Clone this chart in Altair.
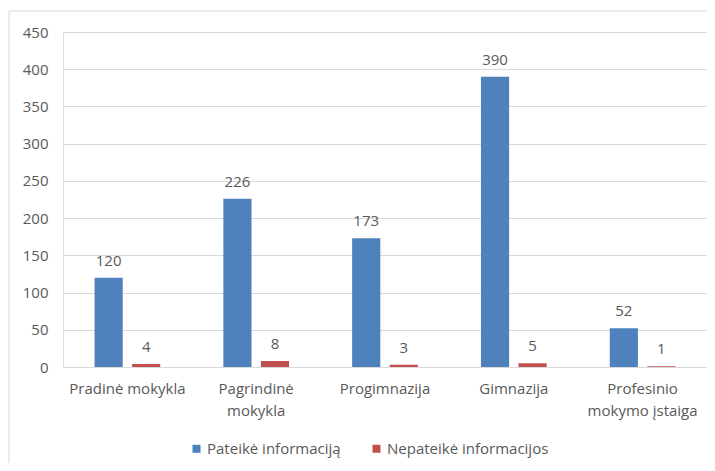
import altair as alt
import pandas as pd

categories = ["Pradinė mokykla", "Pagrindinė|mokykla", "Progimnazija", "Gimnazija", "Profesinio|mokymo įstaiga"]
series = ["Pateikė informaciją", "Nepateikė informacijos"]
provided = [120, 226, 173, 390, 52]
not_provided = [4, 8, 3, 5, 1]
colors = ["#4F81BD", "#C0504D"]
y_ticks = [0, 50, 100, 150, 200, 250, 300, 350, 400, 450]

rows = []
for i, c in enumerate(categories):
    rows.append({"cat": c, "series": series[0], "value": provided[i]})
    rows.append({"cat": c, "series": series[1], "value": not_provided[i]})
df = pd.DataFrame(rows)

FONT = "Open Sans"
FS = 15
W, H = 644, 335

x = alt.X("cat:N", sort=categories, title=None,
          scale=alt.Scale(paddingInner=0.49, paddingOuter=0.245),
          axis=alt.Axis(labelAngle=0, labelExpr="split(datum.label, '|')", labelFontSize=FS,
                        labelColor="#595959", labelFont=FONT, labelPadding=14, ticks=False,
                        domainColor="#D9D9D9", labelLineHeight=22, labelBaseline="top"))
xoff = alt.XOffset("series:N", sort=series, scale=alt.Scale(paddingInner=0.25, paddingOuter=0))

y = alt.Y("value:Q", title=None,
          scale=alt.Scale(domain=[0, 450], nice=False),
          axis=alt.Axis(values=y_ticks, labelFontSize=FS, labelColor="#595959", labelFont=FONT,
                        ticks=False, domain=False, gridColor="#D9D9D9", labelPadding=15))

color = alt.Color("series:N", sort=series,
                  scale=alt.Scale(domain=series, range=colors),
                  legend=alt.Legend(title=None, orient="none", legendX=126, legendY=409,
                                    direction="horizontal", symbolType="square", symbolSize=64,
                                    labelFontSize=FS, labelColor="#595959", labelFont=FONT,
                                    labelLimit=400, columnPadding=28, symbolStrokeWidth=0,
                                    labelOffset=3))

bars = alt.Chart(df).mark_bar().encode(x=x, xOffset=xoff, y=y, color=color)
text = alt.Chart(df).mark_text(baseline="bottom", dy=-9, fontSize=FS, font=FONT, color="#595959").encode(
    x=x, xOffset=xoff, y=y, text="value:Q")

frame = alt.Chart(pd.DataFrame({"a": [0]})).mark_rect(fill=None, stroke="#D9D9D9", strokeWidth=1).encode(
    x=alt.value(-54), x2=alt.value(660), y=alt.value(-21), y2=alt.value(460))

chart = alt.layer(frame, bars, text).properties(
    width=W, height=H,
    autosize=alt.AutoSizeParams(type="none"),
    padding={"left": 55, "top": 24, "right": 0, "bottom": 96},
).configure_view(stroke=None).configure(background="white")

chart.save("out.html", embed_options={"renderer": "svg", "actions": False})
